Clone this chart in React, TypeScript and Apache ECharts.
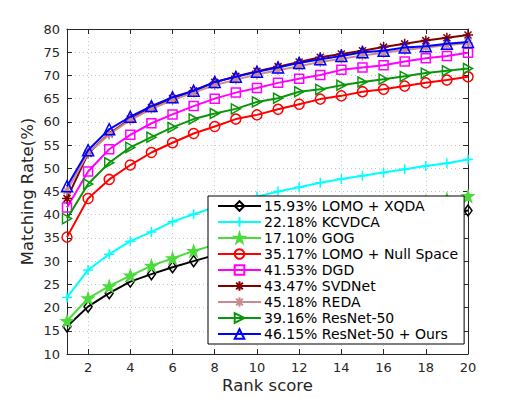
import React, { useEffect, useRef } from "react";
import * as echarts from "echarts";

const ranks = Array.from({ length: 20 }, (_, i) => i + 1);
const xTicks = [2, 4, 6, 8, 10, 12, 14, 16, 18, 20];

const seriesNames = [
  "15.93% LOMO + XQDA",
  "22.18% KCVDCA",
  "17.10% GOG",
  "35.17% LOMO + Null Space",
  "41.53% DGD",
  "43.47% SVDNet",
  "45.18% REDA",
  "39.16% ResNet-50",
  "46.15% ResNet-50 + Ours",
];

const lomoXqda = [15.93, 20.2, 23.1, 25.6, 27.2, 28.7, 30.0, 31.3, 32.4, 33.4, 34.3, 35.1, 35.9, 36.7, 37.4, 38.1, 38.8, 39.5, 40.2, 40.9];
const kcvdca = [22.18, 28.1, 31.5, 34.3, 36.3, 38.5, 40.1, 41.6, 42.8, 43.9, 45.0, 45.9, 46.9, 47.7, 48.4, 49.1, 49.8, 50.5, 51.1, 51.9];
const gog = [17.1, 22.0, 24.6, 26.9, 29.0, 30.6, 32.2, 33.5, 34.8, 36.0, 37.0, 38.0, 38.9, 39.8, 40.6, 41.4, 42.1, 42.8, 43.4, 44.0];
const lomoNull = [35.17, 43.5, 47.6, 50.7, 53.4, 55.5, 57.5, 59.0, 60.6, 61.5, 62.7, 63.8, 64.9, 65.6, 66.5, 67.0, 67.7, 68.4, 69.0, 69.7];
const dgd = [41.53, 49.3, 54.1, 57.2, 59.7, 61.6, 63.4, 65.0, 66.3, 67.3, 68.4, 69.3, 70.1, 71.2, 71.7, 72.2, 73.0, 73.7, 74.2, 74.9];
const svdnet = [43.47, 53.2, 57.5, 60.6, 63.1, 65.0, 66.7, 68.5, 69.8, 70.9, 71.9, 72.9, 73.9, 74.6, 75.3, 76.1, 76.8, 77.5, 78.1, 78.7];
const reda = [45.18, 53.3, 57.3, 60.4, 62.8, 64.7, 66.3, 67.9, 69.1, 70.2, 71.1, 72.0, 72.9, 73.6, 74.3, 74.9, 75.5, 76.0, 76.5, 77.0];
const resnet = [39.16, 46.6, 51.2, 54.5, 56.7, 58.8, 60.6, 61.8, 62.8, 64.3, 65.1, 66.5, 67.0, 67.9, 68.6, 69.2, 69.8, 70.5, 71.0, 71.5];
const ours = [46.15, 53.9, 58.4, 61.1, 63.4, 65.3, 66.7, 68.6, 69.7, 70.8, 71.7, 72.7, 73.5, 74.2, 75.0, 75.3, 76.0, 76.3, 76.8, 77.2];

const allData = [lomoXqda, kcvdca, gog, lomoNull, dgd, svdnet, reda, resnet, ours];
const colors = ["#000000", "#00FFFF", "#4CDB3C", "#FF0000", "#FF00FF", "#800000", "#C98B8B", "#0A960A", "#0000FF"];

const PLUS = "path://M5,0 L5,10 M0,5 L10,5";
const ASTER = "path://M5,0 L5,10 M0,5 L10,5 M1.5,1.5 L8.5,8.5 M1.5,8.5 L8.5,1.5";
const RTRI = "path://M0,0 L10,5 L0,10 Z";
const STAR = "path://M5,0 L6.18,3.62 L10,3.62 L6.91,5.85 L8.09,9.47 L5,7.24 L1.91,9.47 L3.09,5.85 L0,3.62 L3.82,3.62 Z";

const symbols = ["diamond", PLUS, STAR, "circle", "rect", ASTER, ASTER, RTRI, "triangle"];
const symbolSizes: any[] = [[8, 11], 10, 11, 10, 9, 10, 10, [9, 10], 11];
const filled = [false, false, true, false, false, false, false, false, false];

export default function App() {
  const ref = useRef<HTMLDivElement>(null);
  useEffect(() => {
    if (!ref.current) return;
    const chart = echarts.init(ref.current, null, { renderer: "svg" });
    const axisColor = "#262626";
    const font = "DejaVu Sans";
    const series = allData.map((d, i) => ({
      name: seriesNames[i],
      type: "line",
      data: d.map((v, j) => [ranks[j], v]),
      symbol: symbols[i],
      symbolSize: symbolSizes[i],
      showSymbol: true,
      lineStyle: { color: colors[i], width: 2 },
      itemStyle: {
        color: filled[i] ? colors[i] : "rgba(0,0,0,0)",
        borderColor: colors[i],
        borderWidth: 1.5,
      },
      z: 2 + i,
    }));
    chart.setOption({
      animation: false,
      backgroundColor: "#ffffff",
      grid: { left: 67, right: 50, top: 29, bottom: 45, containLabel: false },
      xAxis: [
        {
          type: "value",
          min: 1,
          max: 20,
          name: "Rank score",
          nameLocation: "middle",
          nameGap: 23,
          nameMoveOverlap: false,
          nameTextStyle: { fontFamily: font, fontSize: 16.5, color: axisColor },
          axisLine: { show: true, lineStyle: { color: axisColor, width: 1 } },
          axisTick: { show: true, inside: true, length: 5, customValues: xTicks, lineStyle: { color: axisColor } },
          axisLabel: { customValues: xTicks, fontFamily: font, fontSize: 13, color: axisColor, margin: 7 },
          splitLine: { show: true, lineStyle: { color: "#c8c8c8", type: [1, 3], width: 1 } },
        },
        {
          type: "value",
          position: "top",
          min: 1,
          max: 20,
          axisLine: { show: true, onZero: false, lineStyle: { color: axisColor, width: 1 } },
          axisTick: { show: true, inside: true, length: 5, customValues: xTicks, lineStyle: { color: axisColor } },
          axisLabel: { show: false, customValues: xTicks },
          splitLine: { show: false },
        },
      ],
      yAxis: [
        {
          type: "value",
          min: 10,
          max: 80,
          interval: 5,
          name: "Matching Rate(%)",
          nameLocation: "middle",
          nameGap: 31,
          nameMoveOverlap: false,
          nameTextStyle: { fontFamily: font, fontSize: 16.5, color: axisColor },
          axisLine: { show: true, onZero: false, lineStyle: { color: axisColor, width: 1 } },
          axisTick: { show: true, inside: true, length: 5, lineStyle: { color: axisColor } },
          axisLabel: { fontFamily: font, fontSize: 13, color: axisColor, margin: 7 },
          splitLine: { show: true, lineStyle: { color: "#c8c8c8", type: [1, 3], width: 1 } },
        },
        {
          type: "value",
          position: "right",
          min: 10,
          max: 80,
          interval: 5,
          axisLine: { show: true, onZero: false, lineStyle: { color: axisColor, width: 1 } },
          axisTick: { show: true, inside: true, length: 5, lineStyle: { color: axisColor } },
          axisLabel: { show: false },
          splitLine: { show: false },
        },
      ],
      legend: {
        orient: "vertical",
        left: 208,
        top: 196,
        itemWidth: 43,
        itemHeight: 12,
        itemGap: 2,
        padding: [3, 6, 3, 9],
        borderColor: "#000",
        borderWidth: 1,
        backgroundColor: "#fff",
        textStyle: { fontFamily: font, fontSize: 14, color: "#000", padding: [0, 0, 0, -2] },
        data: seriesNames,
        z: 20,
      },
      series,
    });
    return () => chart.dispose();
  }, []);
  return (
    <div
      ref={ref}
      style={{ position: "fixed", left: 0, top: 0, width: 518, height: 399, background: "#fff" }}
    />
  );
}
